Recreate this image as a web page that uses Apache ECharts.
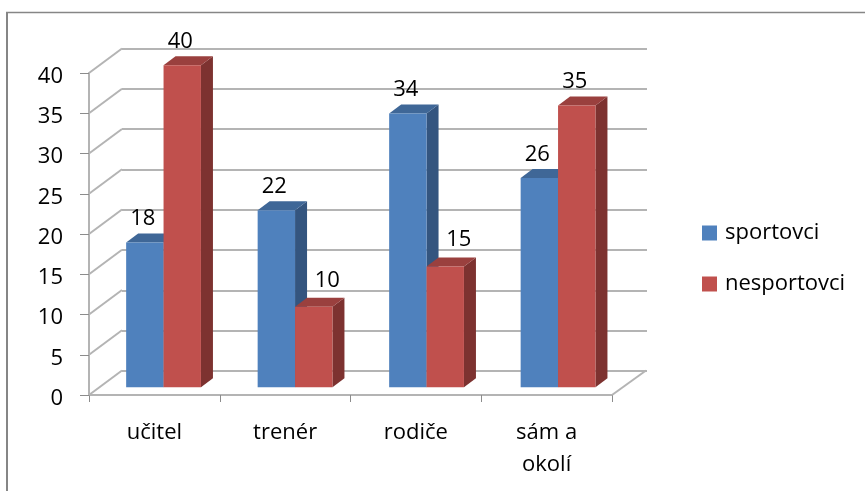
<!DOCTYPE html>
<html>
<head>
<meta charset="utf-8">
<style>html,body{margin:0;padding:0;background:#fff}#chart{width:865px;height:491px}</style>
<script src="https://cdn.jsdelivr.net/npm/echarts@6/dist/echarts.min.js"></script>
</head>
<body>
<div id="chart"></div>
<script>
const categories = ['učitel', 'trenér', 'rodiče', 'sám a\nokolí'];
const sportovci = [18, 22, 34, 26];
const nesportovci = [40, 10, 15, 35];
const axisTicks = { min: 0, max: 40, interval: 5 };
const wallLevels = [0, 5, 10, 15, 20, 25, 30, 35, 40];

const FONT = '"Open Sans", Lato, sans-serif';
const WALL = '#b4b4b4';
const TICK = '#8c8c8c';
const BLUE = { front: '#4f81bd', top: '#3f6797', side: '#34557f' };
const RED = { front: '#c0504d', top: '#9a403e', side: '#7d3230' };

// Planes of the 3D box: the front edge of the floor, the back wall, and the plane of the bar faces.
const frontPlane = { left: 89, top: 73, width: 523, height: 322 };
const backPlane = { left: 122, top: 48.5, width: 525, height: 322.5 };
const barPlane = { left: 97.8, top: 65.3, width: 526, height: 322 };
const BAR_W = 37.4;
const DEPTH_X = 12;
const DEPTH_Y = 9;

function hiddenValueAxis(gridIndex, showLines) {
  return Object.assign({
    type: 'value', gridIndex,
    axisLine: { show: false }, axisTick: { show: false }, axisLabel: { show: false },
    splitLine: { show: showLines, lineStyle: { color: WALL, width: 2 } }
  }, axisTicks);
}
function hiddenCategoryAxis(gridIndex) {
  return {
    type: 'category', gridIndex, data: categories,
    axisLine: { show: false }, axisTick: { show: false }, axisLabel: { show: false }
  };
}

// Draws one series of prisms: front face, top face, side face and the value above it.
function prism(colors, seriesIndex, others) {
  return function (params, api) {
    const idx = api.value(0);
    const val = api.value(1);
    const top = api.coord([idx, val]);
    const base = api.coord([idx, 0]);
    const x0 = top[0] + (seriesIndex === 0 ? -BAR_W : 0);
    const x1 = x0 + BAR_W;
    const y0 = top[1];
    const y1 = base[1];
    // a shorter red bar has its value moved clear of the blue side face
    const pushed = seriesIndex === 1 && val < others[idx];
    return {
      type: 'group',
      children: [
        { type: 'polygon', shape: { points: [[x1, y0], [x1 + DEPTH_X, y0 - DEPTH_Y], [x1 + DEPTH_X, y1 - DEPTH_Y], [x1, y1]] }, style: { fill: colors.side } },
        { type: 'polygon', shape: { points: [[x0, y0], [x0 + DEPTH_X, y0 - DEPTH_Y], [x1 + DEPTH_X, y0 - DEPTH_Y], [x1, y0]] }, style: { fill: colors.top } },
        { type: 'rect', shape: { x: x0, y: y0, width: BAR_W, height: y1 - y0 }, style: { fill: colors.front } },
        { type: 'text', style: {
            text: String(val), x: (x0 + x1) / 2 + (pushed ? 13.5 : -2), y: y0 - DEPTH_Y - 14.5 - (pushed ? 3 : 0),
            fill: '#000', font: '22px ' + FONT, align: 'center', verticalAlign: 'middle'
          } }
      ]
    };
  };
}

const option = {
  animation: false,
  backgroundColor: '#fff',
  textStyle: { fontFamily: FONT },
  graphic: [
    // chart frame: only the top and left edges fall inside the page
    { type: 'line', silent: true, shape: { x1: 6, y1: 12.5, x2: 865, y2: 12.5 }, style: { stroke: '#868686', lineWidth: 1.5 } },
    { type: 'line', silent: true, shape: { x1: 7, y1: 12, x2: 7, y2: 491 }, style: { stroke: '#868686', lineWidth: 2 } }
  ],
  legend: {
    orient: 'vertical', left: 702, top: 222, padding: 0, itemWidth: 15, itemHeight: 15, itemGap: 29,
    icon: 'rect', selectedMode: false,
    data: ['sportovci', 'nesportovci'],
    textStyle: { fontSize: 22, color: '#000', fontFamily: FONT, padding: [0, 0, 0, 3], lineHeight: 19 }
  },
  grid: [
    Object.assign({ containLabel: false }, frontPlane),
    Object.assign({ containLabel: false }, backPlane),
    Object.assign({ containLabel: false }, barPlane)
  ],
  xAxis: [
    {
      type: 'category', gridIndex: 0, data: categories,
      axisLine: { lineStyle: { color: WALL, width: 2 } },
      axisTick: { show: true, alignWithLabel: false, length: 7, lineStyle: { color: TICK, width: 1 } },
      axisLabel: { color: '#000', fontSize: 22, margin: 22, lineHeight: 31.5, interval: 0, fontFamily: FONT }
    },
    hiddenCategoryAxis(1),
    hiddenCategoryAxis(2)
  ],
  yAxis: [
    Object.assign({
      type: 'value', gridIndex: 0,
      axisLine: { show: true, lineStyle: { color: WALL, width: 2 } },
      axisTick: { show: true, length: 9, lineStyle: { color: TICK, width: 1 } },
      // the tick numbers sit a little below their ticks
      axisLabel: { color: '#000', fontSize: 22, margin: 26, verticalAlign: 'top', lineHeight: 7, fontFamily: FONT },
      splitLine: { show: false }
    }, axisTicks),
    hiddenValueAxis(1, true),
    hiddenValueAxis(2, false)
  ],
  series: [
    {
      // receding left wall and floor edges, one per axis level
      type: 'custom', name: 'walls', xAxisIndex: 0, yAxisIndex: 0, silent: true, z: 1,
      data: wallLevels.map(v => [0, v]),
      encode: { x: 0, y: 1 },
      renderItem: function (params, api) {
        const y = api.coord([0, api.value(1)])[1];
        const dx = backPlane.left - frontPlane.left;
        const dy = frontPlane.top - backPlane.top;
        const x = params.coordSys.x;
        const children = [{ type: 'line', shape: { x1: x, y1: y, x2: x + dx, y2: y - dy }, style: { stroke: WALL, lineWidth: 2 } }];
        if (api.value(1) === 0) {
          const xr = x + params.coordSys.width;
          children.push({ type: 'line', shape: { x1: xr, y1: y, x2: xr + dx + 1, y2: y - dy }, style: { stroke: WALL, lineWidth: 2 } });
        }
        return { type: 'group', children };
      }
    },
    {
      type: 'custom', name: 'sportovci', xAxisIndex: 2, yAxisIndex: 2, z: 3,
      itemStyle: { color: BLUE.front },
      data: sportovci.map((v, i) => [i, v]),
      encode: { x: 0, y: 1 },
      renderItem: prism(BLUE, 0, nesportovci)
    },
    {
      type: 'custom', name: 'nesportovci', xAxisIndex: 2, yAxisIndex: 2, z: 4,
      itemStyle: { color: RED.front },
      data: nesportovci.map((v, i) => [i, v]),
      encode: { x: 0, y: 1 },
      renderItem: prism(RED, 1, sportovci)
    }
  ]
};

echarts.init(document.getElementById('chart'), null, { renderer: 'canvas' }).setOption(option);
</script>
</body>
</html>
